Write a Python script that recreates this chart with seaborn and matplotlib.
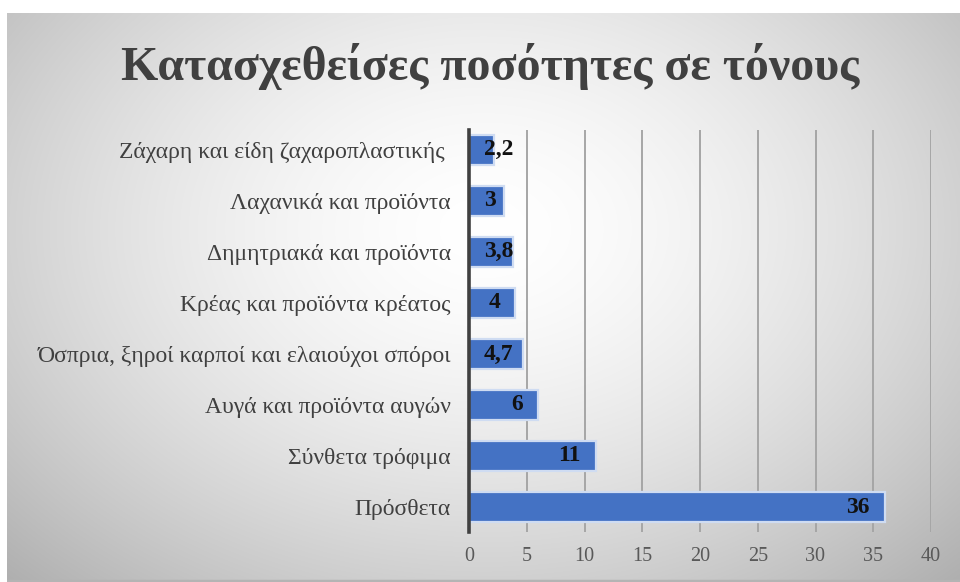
import numpy as np
import pandas as pd
import matplotlib
matplotlib.use("Agg")
import matplotlib.pyplot as plt
import seaborn as sns
from matplotlib import transforms

# Seized quantities per food category (tonnes)
categories = [
    "Ζάχαρη και είδη ζαχαροπλαστικής ",
    "Λαχανικά και προϊόντα",
    "Δημητριακά και προϊόντα",
    "Κρέας και προϊόντα κρέατος",
    "Όσπρια, ξηροί καρποί και ελαιούχοι σπόροι",
    "Αυγά και προϊόντα αυγών",
    "Σύνθετα τρόφιμα",
    "Πρόσθετα",
]
tonnes = [2.2, 3, 3.8, 4, 4.7, 6, 11, 36]
value_labels = ["2,2", "3", "3,8", "4", "4,7", "6", "11", "36"]
x_ticks = [0, 5, 10, 15, 20, 25, 30, 35, 40]
title = "Κατασχεθείσες ποσότητες σε τόνους"

df = pd.DataFrame({"category": categories, "tonnes": tonnes})

sns.set_theme(style="white")
plt.rcParams["font.family"] = ["Liberation Serif", "DejaVu Serif"]

W, H = 960, 582
fig = plt.figure(figsize=(W / 100, H / 100), dpi=100)
fig.patch.set_facecolor("white")

# Soft radial grey background panel
bg = fig.add_axes([7 / W, 0, (W - 7) / W, (H - 13) / H], zorder=-5)
yy, xx = np.mgrid[0:1:300j, 0:1:500j]
r = np.sqrt(((xx - 0.5) / 0.62) ** 2 + ((yy - 0.38) / 0.75) ** 2)
shade = 1.0 - 0.25 * np.clip(r, 0, 1.3) ** 1.6
bg.imshow(np.dstack([shade] * 3), aspect="auto", extent=[0, 1, 1, 0],
          interpolation="bilinear", vmin=0, vmax=1)
bg.set_axis_off()
bg.plot([0, 1], [0.0015, 0.0015], color="#b4b4b4", lw=2.5, transform=bg.transAxes)

left, right = 469 / W, 931 / W
top, bottom = 1 - 130 / H, 1 - 532 / H
ax = fig.add_axes([left, bottom, right - left, top - bottom])
ax.patch.set_alpha(0)

sns.barplot(data=df, x="tonnes", y="category", orient="h", ax=ax,
            color="#4472C4", saturation=1, width=0.58,
            edgecolor="#cfdcf2", linewidth=1.6, zorder=3)

ax.set_xlim(0, 40)
ax.set_ylim(7.49, -0.39)
ax.set_xticks(x_ticks)
ax.set_xticklabels([str(t) for t in x_ticks])
ax.xaxis.grid(True, color="#a6a6a6", linewidth=1.4, zorder=0)
ax.set_axisbelow(True)
for s in ["top", "right", "bottom"]:
    ax.spines[s].set_visible(False)
ax.spines["left"].set_color("#404040")
ax.spines["left"].set_linewidth(2.6)
ax.spines["left"].set_zorder(5)
ax.tick_params(axis="x", length=0, pad=11, labelsize=14.5, labelcolor="#595959")
ax.tick_params(axis="y", length=0, pad=13, labelsize=17, labelcolor="#404040")
ax.set_xlabel("")
ax.set_ylabel("")

# Value labels inside the bar ends, kept clear of the axis for short bars
fig.canvas.draw()
renderer = fig.canvas.get_renderer()
axis_px = ax.transData.transform((0, 0))[0]
for i, (v, lab) in enumerate(zip(tonnes, value_labels)):
    off = transforms.offset_copy(ax.transData, fig=fig, x=-15, y=0, units="dots")
    t = ax.text(v, i, lab, ha="right", va="center", fontsize=17,
                fontweight="bold", color="#111111", transform=off, zorder=6)
    ext = t.get_window_extent(renderer)
    if ext.x0 < axis_px + 14:
        t.set_transform(transforms.offset_copy(ax.transData, fig=fig, x=15,
                                               y=0, units="dots"))
        t.set_x(0)
        t.set_ha("left")

fig.text(490 / W, 1 - 66 / H, title, ha="center", va="center", fontsize=34.5,
         fontweight="bold", color="#404040")

fig.savefig("out.png", dpi=100)
